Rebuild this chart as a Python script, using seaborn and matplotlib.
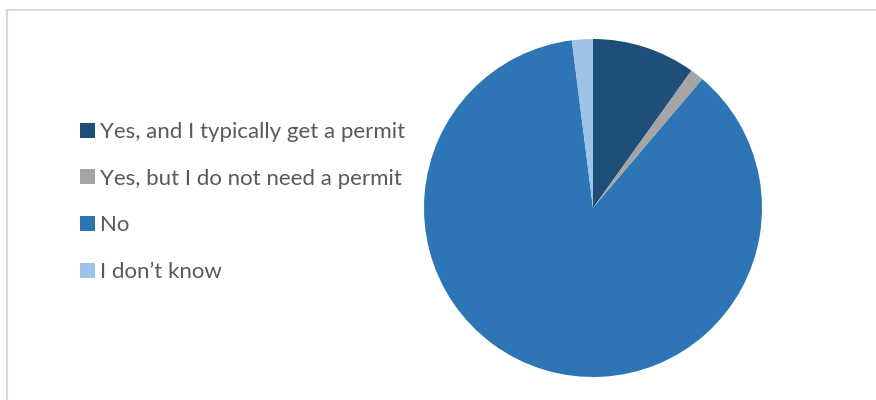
import matplotlib
matplotlib.use("Agg")
import matplotlib.pyplot as plt
from matplotlib.patches import Patch, Rectangle
import seaborn as sns

# Survey responses (percent of respondents)
categories = [
    "Yes, and I typically get a permit",
    "Yes, but I do not need a permit",
    "No",
    "I don\u2019t know",
]
shares = [9.9, 1.3, 86.8, 2.0]
colors = ["#1F4E79", "#A5A5A5", "#2E75B6", "#9DC3E6"]

sns.set_theme(style="white")
plt.rcParams["font.family"] = ["Lato", "DejaVu Sans"]

fig = plt.figure(figsize=(8.76, 4.0), dpi=100)
W, H = 876, 400

# chart-area border (light gray frame running off the right and bottom)
fig.add_artist(Rectangle((7 / W, -0.1), 1.2, (H - 10) / H + 0.1,
                         transform=fig.transFigure, fill=False,
                         edgecolor="#D9D9D9", linewidth=1.5))

ax = fig.add_axes([424 / W, 23 / H, 338 / W, 338 / H])
ax.pie(shares, colors=colors, startangle=90, counterclock=False,
       wedgeprops=dict(linewidth=0))
ax.set_xlim(-1, 1)
ax.set_ylim(-1, 1)
ax.set_aspect("equal")
ax.axis("off")

handles = [Patch(facecolor=c, edgecolor="none") for c in colors]
leg = fig.legend(handles, categories, loc="upper left",
                 bbox_to_anchor=(71 / W, 1 - 113 / H), frameon=False,
                 fontsize=16, handlelength=0.66, handleheight=0.66,
                 handletextpad=0.25, labelspacing=1.2, borderaxespad=0)
for t in leg.get_texts():
    t.set_color("#595959")

fig.savefig("out.png", dpi=100)
